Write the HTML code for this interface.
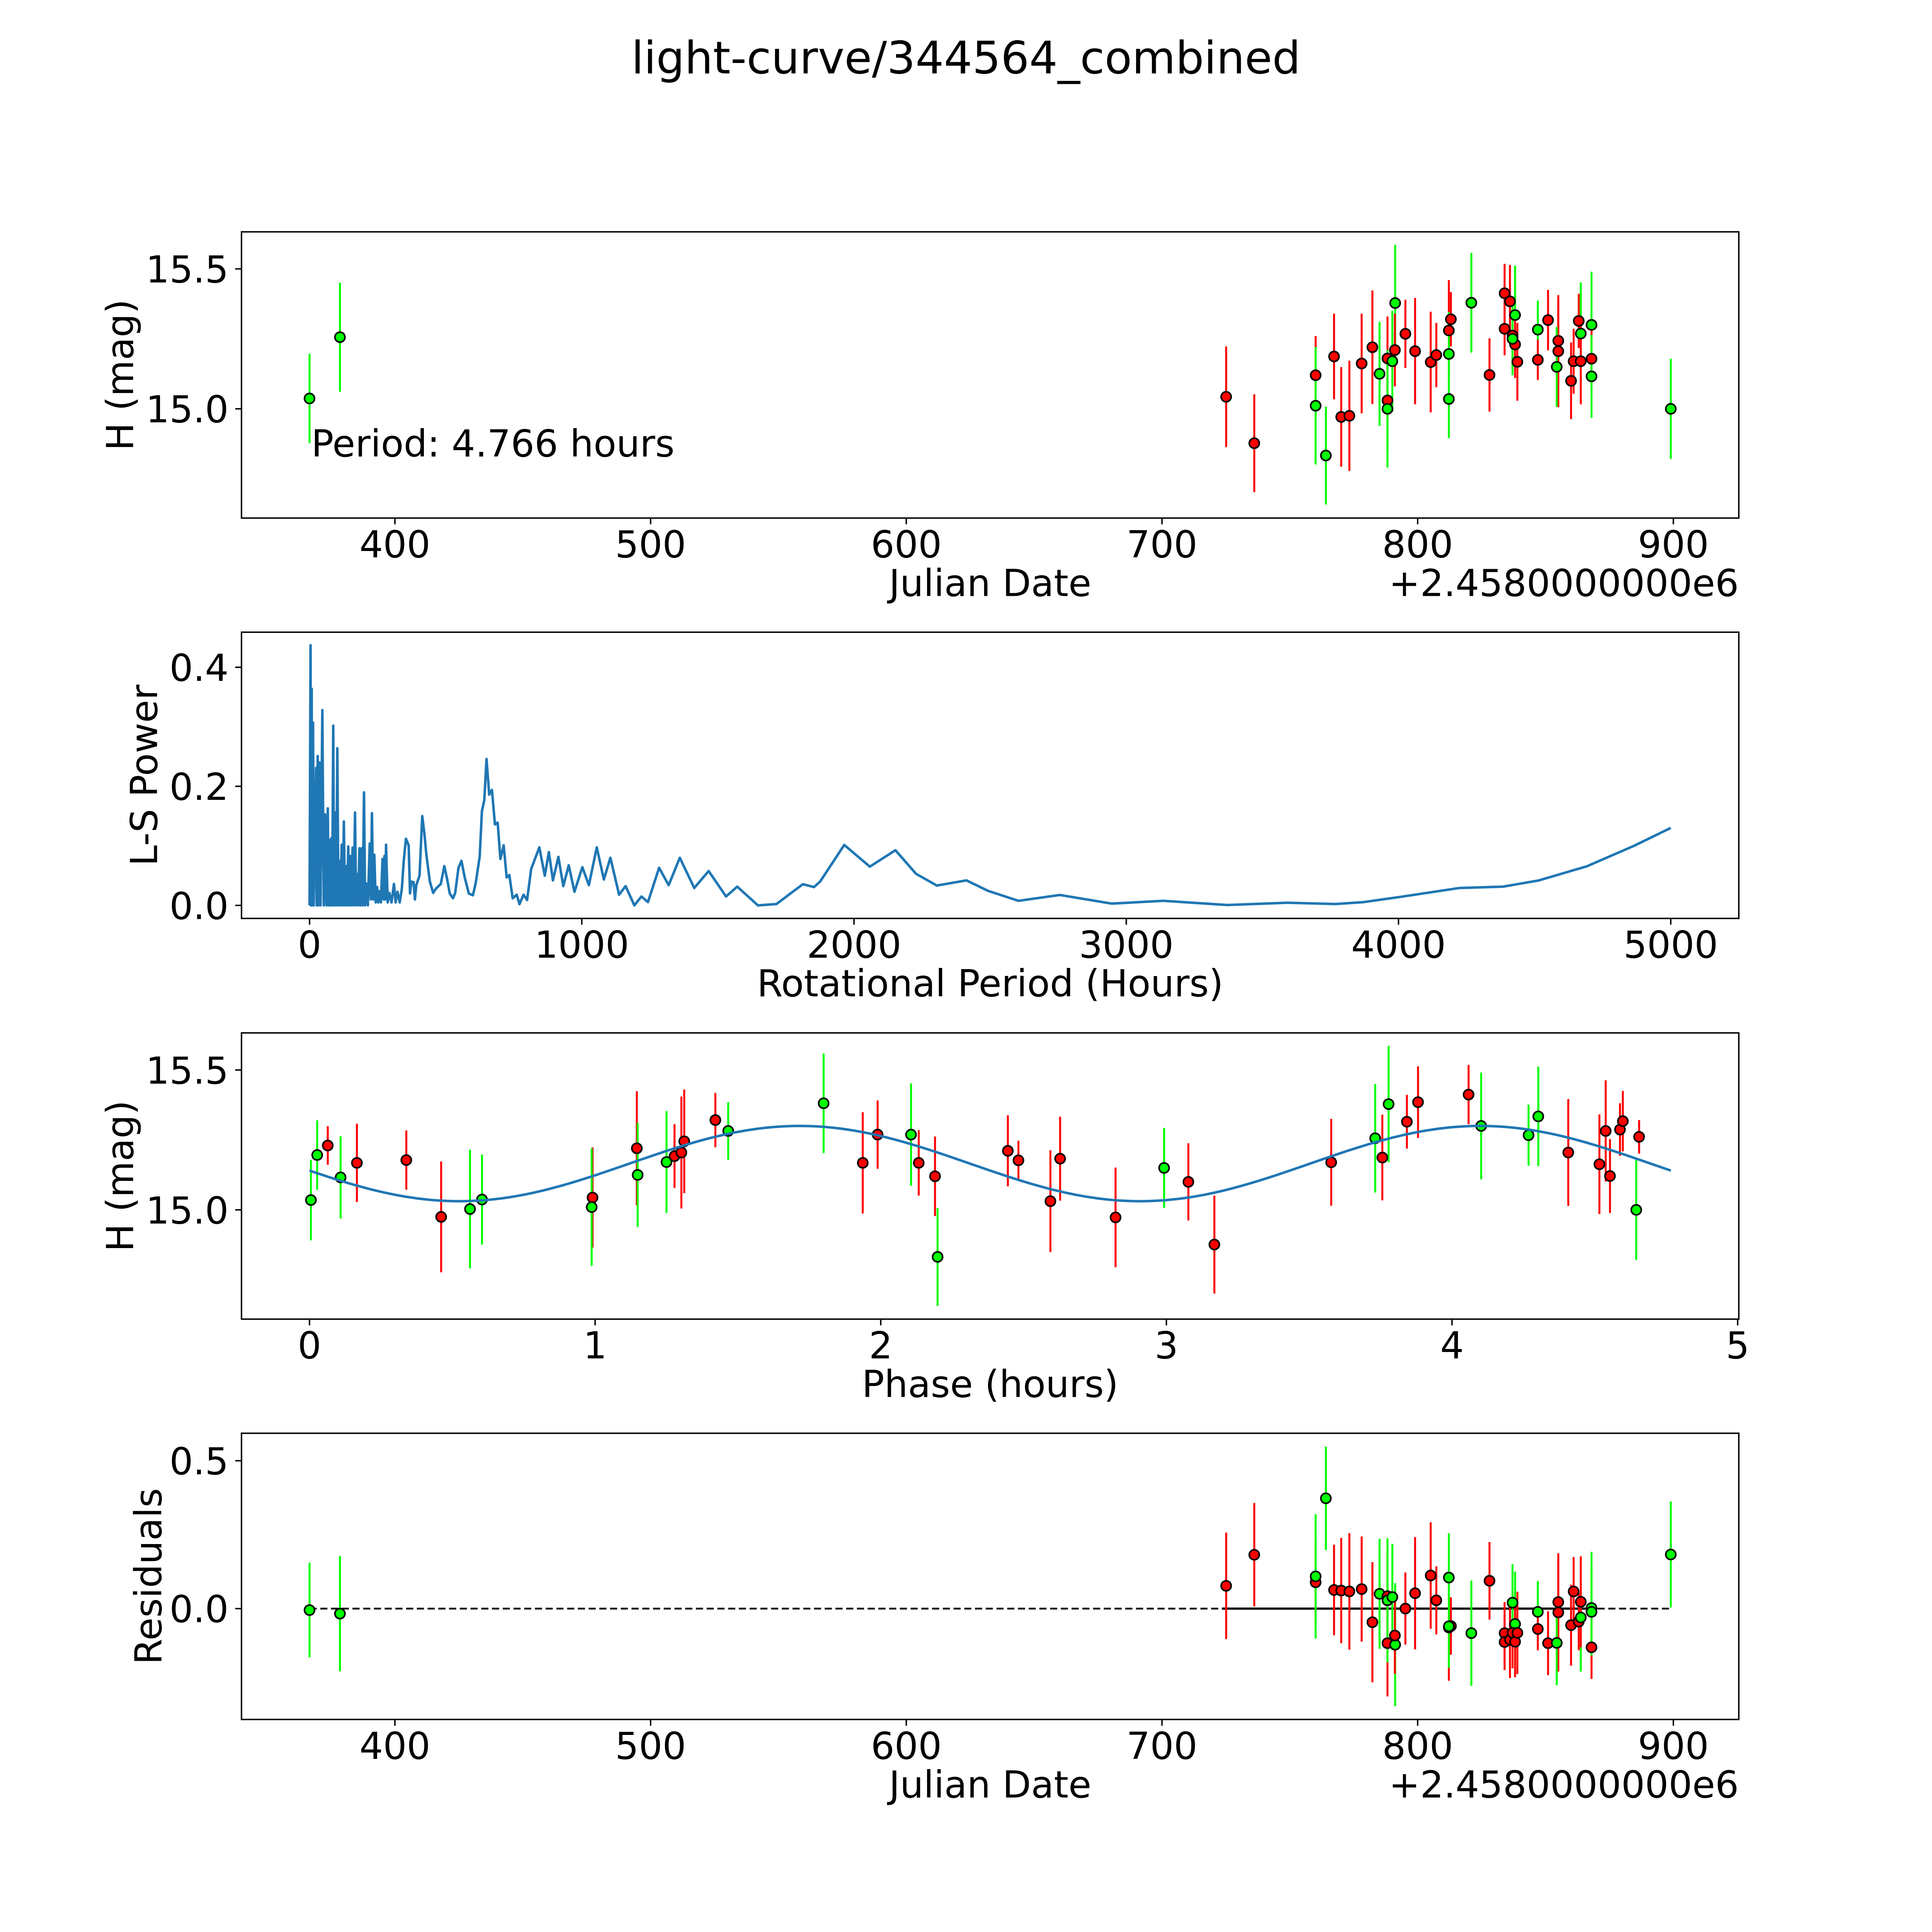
<!DOCTYPE html>
<html><head><meta charset="utf-8">
<style>
html,body{margin:0;padding:0;background:#fff;overflow:hidden;width:100%;height:100%;}
svg#fig{position:fixed;left:0;top:0;width:100vw;height:100vh;display:block;}
text{font-family:"DejaVu Sans","Liberation Sans",sans-serif;fill:#000;}
</style></head>
<body>
<svg id="fig" xmlns="http://www.w3.org/2000/svg" viewBox="0 0 5400 5400" preserveAspectRatio="xMidYMid meet">
<rect x="0" y="0" width="5400" height="5400" fill="#fff"/>
<text x="2700" y="205" font-size="125" text-anchor="middle">light-curve/344564_combined</text>
</svg>
<script>
// ---------- Panel 1 / 4 data (Julian Date - 2458000) ----------
const obsDays = [366.6,378.5,725.1,736.1,760.1,760.1,764.1,767.3,770.1,773.3,778.1,782.3,785.1,788.2,788.2,788.2,790.1,791.2,791.1,795.2,799.0,805.1,807.3,812.2,813.0,812.2,812.2,821.0,828.1,834.0,834.0,836.1,838.1,837.1,838.1,839.0,837.1,847.0,847.0,851.0,855.0,855.0,854.4,860.0,861.0,863.0,863.8,863.8,868.0,868.0,868.0,899.0];
const obsMags = [15.037,15.256,15.043,14.877,15.12,15.011,14.833,15.187,14.971,14.975,15.162,15.22,15.125,15.18,15.03,15.0,15.17,15.378,15.21,15.268,15.206,15.167,15.192,15.28,15.32,15.196,15.035,15.379,15.121,15.413,15.286,15.384,15.335,15.262,15.23,15.168,15.25,15.283,15.175,15.317,15.243,15.206,15.15,15.1,15.17,15.314,15.269,15.17,15.3,15.179,15.116,15.0];
const obsErrs = [0.16,0.195,0.18,0.175,0.14,0.21,0.175,0.153,0.178,0.197,0.178,0.203,0.186,0.15,0.18,0.21,0.18,0.208,0.13,0.122,0.19,0.18,0.115,0.18,0.097,0.15,0.14,0.178,0.131,0.105,0.095,0.13,0.177,0.12,0.12,0.139,0.13,0.104,0.072,0.108,0.15,0.2,0.143,0.137,0.116,0.097,0.183,0.154,0.19,0.107,0.148,0.179];
const obsBands = ['g','g','r','r','r','g','g','r','r','r','r','r','g','r','r','g','g','g','r','r','r','r','r','r','r','g','g','g','r','r','r','r','g','r','r','r','g','g','r','r','r','r','g','r','r','r','g','r','g','r','g','g'];
const obsResid = [-0.005,-0.017,0.077,0.182,0.089,0.109,0.373,0.063,0.061,0.058,0.066,-0.046,0.050,0.042,-0.117,0.028,0.039,-0.122,-0.091,0.0,0.052,0.112,0.028,-0.064,-0.059,0.105,-0.06,-0.083,0.094,-0.083,-0.113,-0.105,-0.052,-0.082,-0.112,-0.082,0.02,-0.011,-0.069,-0.117,0.022,-0.013,-0.116,-0.056,0.058,-0.044,-0.03,0.023,0.002,-0.131,-0.011,0.183];
// ---------- Panel 3 data (phase in hours) ----------
const phHours = [0.005,0.027,0.064,0.109,0.166,0.339,0.461,0.562,0.604,0.991,0.988,1.146,1.149,1.25,1.278,1.302,1.312,1.421,1.466,1.8,1.937,1.989,2.106,2.133,2.19,2.199,2.445,2.482,2.594,2.628,2.822,2.992,3.077,3.168,3.577,3.731,3.756,3.778,3.842,3.881,4.058,4.102,4.268,4.302,4.407,4.516,4.538,4.553,4.588,4.598,4.655,4.645];
const phMags = [15.035,15.196,15.23,15.116,15.168,15.178,14.975,15.003,15.037,15.044,15.01,15.22,15.125,15.171,15.192,15.205,15.245,15.321,15.282,15.381,15.168,15.269,15.269,15.168,15.12,14.832,15.211,15.177,15.031,15.183,14.973,15.15,15.1,14.876,15.17,15.256,15.187,15.378,15.315,15.385,15.412,15.3,15.267,15.334,15.205,15.163,15.282,15.121,15.287,15.317,15.261,15.0];
const phErrs = [0.144,0.124,0.069,0.147,0.14,0.106,0.198,0.212,0.161,0.179,0.21,0.204,0.186,0.182,0.114,0.2,0.185,0.097,0.103,0.178,0.181,0.122,0.183,0.117,0.142,0.175,0.127,0.07,0.182,0.15,0.178,0.143,0.138,0.175,0.155,0.194,0.153,0.208,0.096,0.128,0.106,0.191,0.109,0.178,0.191,0.178,0.181,0.132,0.094,0.108,0.06,0.179];
const phBands = ['g','g','r','g','r','r','r','g','g','r','g','r','g','g','r','r','r','r','g','g','r','r','g','r','r','g','r','r','r','r','r','g','r','r','r','g','r','g','r','r','r','g','g','g','r','r','r','r','r','r','r','g'];
// fitted model parameters (double-peaked sinusoid)
const fitMean = [15.1655];
const fitAmp = [0.1345];
const fitHalfPeriod = [2.383];
const fitPeakPhase = [1.716];
const fitRange = [0, 4.766];
// ---------- Panel 2 periodogram ----------
const lsPeriods = [0,3.7,5,7.8,9,12.8,15,23.8,26,29.9,33,36.9,40,47,52,57,62,67,70,74,77,80,83,87,90,94,98,102,106,110,114,118,122,126,130,134,138,142,146,150,154,158,162,167,171,175,179,183,187,191,195,200,204,208,214,221,225,229,234,238,243,248,252,256,262,268,272,275,278,281,287,293,301,310,316,323,331,339,346,354,364,369,374,382,387,392,404,414,422,429,442,454,464,482,495,505,515,527,535,547,558,570,585,600,610,625,633,642,650,660,670,681,691,701,713,724,734,746,761,771,786,799,814,844,864,879,894,914,932,952,973,1002,1026,1055,1081,1105,1137,1161,1193,1219,1243,1284,1319,1360,1413,1466,1530,1571,1647,1715,1812,1853,1876,1964,2058,2152,2228,2304,2413,2492,2604,2756,2947,3137,3372,3592,3768,3871,4017,4223,4384,4516,4692,4868,5000];
const lsPowers = [0,0.437,0,0.364,0,0.307,0,0.231,0,0.251,0,0.240,0,0.328,0,0.153,0,0.163,0,0.110,0,0.113,0,0.302,0,0.156,0,0.264,0,0.075,0,0.102,0,0.141,0,0.066,0,0.099,0,0.083,0,0.097,0,0.156,0,0.053,0,0.096,0,0.096,0,0.190,0,0.037,0,0.104,0.01,0.155,0.01,0.085,0.005,0.031,0.005,0.024,0.005,0.078,0.01,0.083,0.01,0.102,0.005,0.021,0.005,0.036,0.005,0.023,0.005,0.028,0.075,0.112,0.101,0.02,0.040,0.039,0.01,0.034,0.050,0.150,0.120,0.085,0.040,0.021,0.028,0.036,0.066,0.045,0.020,0.012,0.021,0.063,0.075,0.047,0.020,0.017,0.037,0.082,0.158,0.177,0.246,0.186,0.194,0.136,0.139,0.078,0.101,0.047,0.051,0.012,0.018,0.002,0.018,0.009,0.061,0.0975,0.0499,0.0896,0.042,0.0816,0.0324,0.0673,0.0229,0.0642,0.034,0.0975,0.0435,0.080,0.018,0.0324,0,0.015,0.0055,0.0632,0.034,0.080,0.0292,0.0578,0.015,0.0315,0,0.0023,0.0356,0.0308,0.0404,0.1016,0.0651,0.0927,0.053,0.0334,0.042,0.0245,0.0077,0.0175,0.003,0.0077,0.0007,0.0045,0.0023,0.0055,0.015,0.0292,0.0315,0.042,0.0657,0.1007,0.1302];
// ---------- tick labels ----------
const jdTicks = [400,500,600,700,800,900];
const lsTicksX = [0,1000,2000,3000,4000,5000];
const phTicksX = [0,1,2,3,4,5];
const magTicks = [15.0,15.5];
const lsTicksY = [0.0,0.2,0.4];
const resTicks = [0.0,0.5];

const NS='http://www.w3.org/2000/svg';
const svg=document.getElementById('fig');
const COL={r:'#ff0000',g:'#00ff00'};
const FS=104;
function mk(tag,attrs,parent){const e=document.createElementNS(NS,tag);for(const k in attrs)e.setAttribute(k,attrs[k]);(parent||svg).appendChild(e);return e;}
function axis(x0,x1,y0,y1,left,top){const W=4185,H=800;return{sx:v=>left+(v-x0)/(x1-x0)*W,sy:v=>top+H-(v-y0)/(y1-y0)*H,left,top,W,H};}
const L=675;
const A1=axis(340,925.6,14.6095,15.6325,L,648);
const A2=axis(-250,5250,-0.02185,0.4589,L,1767);
const A3=axis(-0.238,5.004,14.6095,15.6325,L,2887);
const A4=axis(340,925.6,-0.375,0.593,L,4006);

function frame(A,name,xt,xfmt,yt,yfmt,xlabel,ylabel,ylabX,offsetText){
  const g=mk('g',{});
  
  
  const bottom=A.top+A.H;
  xt.forEach(v=>{const x=A.sx(v);
    const t=mk('line',{x1:x,x2:x,y1:bottom,y2:bottom+17.5,stroke:'#000','stroke-width':4},g);
    
    
    const l=mk('text',{x:x,y:bottom+110,'font-size':FS,'text-anchor':'middle'},g);l.textContent=xfmt(v);
    
    
  });
  yt.forEach(v=>{const y=A.sy(v);
    const t=mk('line',{x1:A.left-17.5,x2:A.left,y1:y,y2:y,stroke:'#000','stroke-width':4},g);
    
    
    const l=mk('text',{x:A.left-36,y:y+38,'font-size':FS,'text-anchor':'end'},g);l.textContent=yfmt(v);
    
    
  });
  const xl=mk('text',{x:A.left+A.W/2,y:bottom+218,'font-size':FS,'text-anchor':'middle'},g);xl.textContent=xlabel;
  
  
  const cy=A.top+A.H/2;
  const yl=mk('text',{x:ylabX,y:cy,'font-size':FS,'text-anchor':'middle',transform:'rotate(-90 '+ylabX+' '+cy+')'},g);yl.textContent=ylabel;
  
  
  if(offsetText){const o=mk('text',{x:A.left+A.W,y:bottom+218,'font-size':FS,'text-anchor':'end'},g);o.textContent=offsetText;
    
    }
  return g;
}
function border(A,name){const r=mk('rect',{x:A.left,y:A.top,width:A.W,height:A.H,fill:'none',stroke:'#000','stroke-width':4});
  
  }
function points(A,name,xs,ys,es,bands){
  const g=mk('g',{});
  
  
  for(let i=0;i<xs.length;i++){
    const x=A.sx(xs[i]),c=COL[bands[i]];
    const b=mk('line',{x1:x,x2:x,y1:A.sy(ys[i]-es[i]),y2:A.sy(ys[i]+es[i]),stroke:c,'stroke-width':5.5},g);
    
    
  }
  for(let i=0;i<xs.length;i++){
    const m=mk('circle',{cx:A.sx(xs[i]),cy:A.sy(ys[i]),r:14,fill:COL[bands[i]],stroke:'#000','stroke-width':4.5},g);
    
    
  }
}
const f1=v=>v.toFixed(1), f0=v=>String(v);

// Panel 1
frame(A1,'raw-light-curve',jdTicks,f0,magTicks,f1,'Julian Date','H (mag)',372,'+2.4580000000e6');
points(A1,'raw-light-curve',obsDays,obsMags,obsErrs,obsBands);
const pt=mk('text',{x:870,y:1276,'font-size':FS});pt.textContent='Period: 4.766 hours';


border(A1,'raw-light-curve');

// Panel 2
frame(A2,'periodogram',lsTicksX,f0,lsTicksY,f1,'Rotational Period (Hours)','L-S Power',439,null);
{let d='';for(let i=0;i<lsPeriods.length;i++){d+=(i?'L':'M')+A2.sx(lsPeriods[i]).toFixed(1)+' '+A2.sy(lsPowers[i]).toFixed(1);}
const p=mk('path',{d:d,fill:'none',stroke:'#1f77b4','stroke-width':7,'stroke-linejoin':'round'});

}
border(A2,'periodogram');

// Panel 3
frame(A3,'phased-light-curve',phTicksX,f0,magTicks,f1,'Phase (hours)','H (mag)',372,null);
points(A3,'phased-light-curve',phHours,phMags,phErrs,phBands);
{let d='';const n=240;for(let i=0;i<=n;i++){const ph=fitRange[0]+(fitRange[1]-fitRange[0])*i/n;
  const m=fitMean[0]+fitAmp[0]*Math.cos(2*Math.PI*(ph-fitPeakPhase[0])/fitHalfPeriod[0]);
  d+=(i?'L':'M')+A3.sx(ph).toFixed(1)+' '+A3.sy(m).toFixed(1);}
const p=mk('path',{d:d,fill:'none',stroke:'#1f77b4','stroke-width':7});

}
border(A3,'phased-light-curve');

// Panel 4
frame(A4,'residuals',jdTicks,f0,resTicks,f1,'Julian Date','Residuals',451,'+2.4580000000e6');
{const dl=mk('line',{x1:A4.sx(obsDays[0]),x2:A4.sx(obsDays[obsDays.length-1]),y1:A4.sy(0),y2:A4.sy(0),stroke:'#000','stroke-width':5,'stroke-dasharray':'20 10'});


const sl=mk('line',{x1:A4.sx(723.5),x2:A4.sx(869.7),y1:A4.sy(0),y2:A4.sy(0),stroke:'#000','stroke-width':6});

}
points(A4,'residuals',obsDays,obsResid,obsErrs,obsBands);
border(A4,'residuals');
</script>
</body></html>
